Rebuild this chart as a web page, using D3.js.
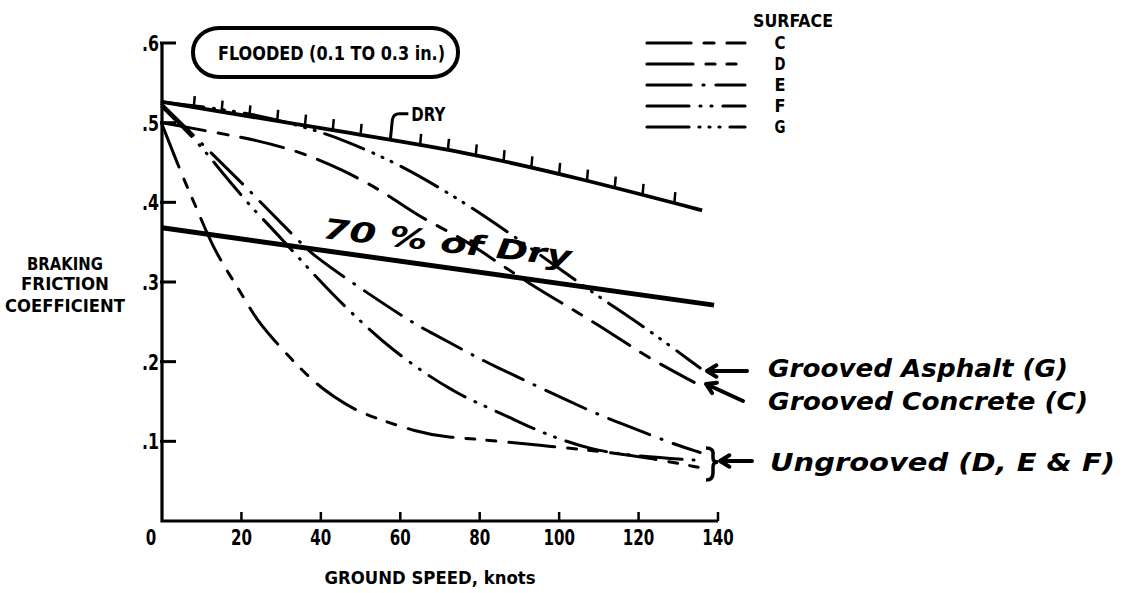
<!DOCTYPE html>
<html>
<head>
<meta charset="utf-8">
<script src="https://cdn.jsdelivr.net/npm/d3@7"></script>
<style>
  html, body { margin: 0; padding: 0; background: #ffffff; }
  svg { display: block; }
</style>
</head>
<body>
<div id="chart"></div>
<script>
// ── Data ───────────────────────────────────────────────────────────────────────

const speedTicks = [0, 20, 40, 60, 80, 100, 120, 140];
const frictionTicks = [0.1, 0.2, 0.3, 0.4, 0.5, 0.6];
const frictionTickLabels = [".1", ".2", ".3", ".4", ".5", ".6"];

// [ground speed (knots), braking friction coefficient]
const dryLine = [[0, 0.526], [40, 0.493], [75, 0.463], [136, 0.39]];
const seventyPctLine = [[0, 0.368], [139, 0.271]];
const dryHatchSpeeds = [8, 15, 22, 29, 36, 43, 50, 57.5, 65, 72, 79, 86, 93, 100, 107, 114, 121, 129];
const dryLeaderSpeed = 57.5;

const surfaceC = [[0, 0.5], [13, 0.488], [24, 0.478], [35, 0.463], [45, 0.442], [56, 0.413], [64, 0.384],
    [75, 0.356], [80, 0.34], [93, 0.296], [103, 0.267], [114, 0.233], [122, 0.206], [134, 0.174]];
const surfaceD = [[0, 0.498], [6, 0.422], [9, 0.39], [13, 0.34], [20, 0.286], [23, 0.259], [27, 0.233],
    [38, 0.174], [44, 0.154], [49, 0.137], [65, 0.11], [72.5, 0.105], [79, 0.103], [95, 0.095],
    [112, 0.087], [124, 0.078], [135.5, 0.067]];
const surfaceE = [[0, 0.523], [13, 0.459], [22, 0.415], [26, 0.394], [35, 0.349], [38, 0.334], [47, 0.302],
    [62, 0.252], [67.5, 0.237], [78, 0.209], [83, 0.196], [95, 0.168], [100, 0.156], [111, 0.131],
    [117, 0.12], [128, 0.098], [135.5, 0.086]];
const surfaceF = [[0, 0.52], [9, 0.476], [14.5, 0.441], [22.5, 0.394], [24.5, 0.384], [32, 0.344], [36.5, 0.319],
    [43, 0.284], [51.6, 0.243], [58, 0.215], [68, 0.179], [74, 0.162], [76, 0.156], [88, 0.129],
    [96, 0.11], [108, 0.089], [120, 0.081], [135.5, 0.076]];
const surfaceG = [[0, 0.526], [22, 0.513], [37, 0.493], [46, 0.478], [60, 0.447], [71, 0.415], [81, 0.384],
    [95, 0.335], [110, 0.281], [120, 0.249], [135.5, 0.192]];

const surfaceNames = ["C", "D", "E", "F", "G"];
const surfaceSeries = [surfaceC, surfaceD, surfaceE, surfaceF, surfaceG];
const surfaceDashes = ["44 13 10 13", "46 13 9 12 9 13", "44 12 1 12", "42 11 1 10 1 11", "42 10 1 9 1 9 1 10"];

const handNotes = ["Grooved Asphalt (G)", "Grooved Concrete (C)", "Ungrooved (D, E & F)"];

// ── Layout ─────────────────────────────────────────────────────────────────────

const W = 1135, H = 593;
const x = d3.scaleLinear().domain([0, 140]).range([162, 718]);
const y = d3.scaleLinear().domain([0, 0.6]).range([521, 43]);

const svg = d3.select("#chart").append("svg")
    .attr("width", W).attr("height", H)
    .attr("viewBox", `0 0 ${W} ${H}`);

const INK = "#000";
const typeFont = "'DejaVu Sans', 'Liberation Sans', sans-serif";
const handFont = "'DejaVu Sans', 'Liberation Sans', sans-serif";

// condensed bold lettering, like the typed labels of the scan
function typeText(parent, str, px, py, size, width, anchor = "start") {
    return parent.append("text")
        .attr("x", px).attr("y", py)
        .attr("font-family", typeFont)
        .attr("font-weight", "bold")
        .attr("font-size", size)
        .attr("text-anchor", anchor)
        .attr("fill", INK)
        .attr("textLength", width)
        .attr("lengthAdjust", "spacingAndGlyphs")
        .text(str);
}

function handText(parent, str, px, py, size, width) {
    return parent.append("text")
        .attr("x", px).attr("y", py)
        .attr("font-family", handFont)
        .attr("font-weight", "bold")
        .attr("font-style", "italic")
        .attr("font-size", size)
        .attr("fill", INK)
        .attr("textLength", width)
        .attr("lengthAdjust", "spacingAndGlyphs")
        .text(str);
}

// ── Axes ───────────────────────────────────────────────────────────────────────

const axisG = svg.append("g");

axisG.append("path")
    .attr("d", `M${x(0)},${y(0.6)} V${y(0)} H${x(140)}`)
    .attr("fill", "none").attr("stroke", INK).attr("stroke-width", 3.2);

// y ticks point inward
axisG.selectAll(".ytick").data(frictionTicks).enter().append("line")
    .attr("x1", x(0) - 2).attr("x2", x(0) + 14)
    .attr("y1", d => y(d)).attr("y2", d => y(d))
    .attr("stroke", INK).attr("stroke-width", 3);

axisG.selectAll(".ylab").data(frictionTicks).enter().append("text")
    .attr("x", x(0) - 3).attr("y", d => y(d) + 8)
    .attr("text-anchor", "end")
    .attr("font-family", typeFont).attr("font-weight", "bold").attr("font-size", 22)
    .attr("textLength", 17).attr("lengthAdjust", "spacingAndGlyphs")
    .text((d, i) => frictionTickLabels[i]);

// x ticks point up
axisG.selectAll(".xtick").data(speedTicks.slice(1)).enter().append("line")
    .attr("x1", d => x(d)).attr("x2", d => x(d))
    .attr("y1", y(0)).attr("y2", y(0) - 9)
    .attr("stroke", INK).attr("stroke-width", 2.5);

axisG.selectAll(".xlab").data(speedTicks).enter().append("text")
    .attr("x", d => d === 0 ? x(d) - 11 : x(d))
    .attr("y", 545)
    .attr("text-anchor", "middle")
    .attr("font-family", typeFont).attr("font-weight", "bold").attr("font-size", 22)
    .attr("textLength", d => String(d).length * 10.5)
    .attr("lengthAdjust", "spacingAndGlyphs")
    .text(d => d);

typeText(svg, "GROUND SPEED, knots", 430, 584, 18, 211, "middle");
typeText(svg, "BRAKING", 65, 270, 18, 76, "middle");
typeText(svg, "FRICTION", 65, 290, 18, 88, "middle");
typeText(svg, "COEFFICIENT", 65, 312, 18, 120, "middle");

// ── Title box ──────────────────────────────────────────────────────────────────

svg.append("rect")
    .attr("x", 193).attr("y", 28).attr("width", 265).attr("height", 49)
    .attr("rx", 26).attr("ry", 24)
    .attr("fill", "none").attr("stroke", INK).attr("stroke-width", 4);
typeText(svg, "FLOODED (0.1 TO 0.3 in.)", 218, 60, 20, 227);

// ── Legend ─────────────────────────────────────────────────────────────────────

const legend = svg.append("g");
typeText(legend, "SURFACE", 753, 27, 18, 80);
surfaceNames.forEach((name, i) => {
    const ly = 43 + i * 21;
    legend.append("line")
        .attr("x1", 647).attr("x2", 745).attr("y1", ly).attr("y2", ly)
        .attr("stroke", INK).attr("stroke-width", 3.2)
        .attr("stroke-linecap", "round")
        .attr("stroke-dasharray", surfaceDashes[i]);
    typeText(legend, name, 780, ly + 6, 18, 11, "middle");
});

// ── Curves ─────────────────────────────────────────────────────────────────────

const line = d3.line()
    .x(d => x(d[0]))
    .y(d => y(d[1]))
    .curve(d3.curveMonotoneX);

// the hand-traced surface curves are smooth, so soften the read-off points
const smoothLine = d3.line()
    .x(d => x(d[0]))
    .y(d => y(d[1]))
    .curve(d3.curveBasis);

const plot = svg.append("g");

surfaceSeries.forEach((series, i) => {
    plot.append("path")
        .datum(series)
        .attr("d", smoothLine)
        .attr("fill", "none")
        .attr("stroke", INK)
        .attr("stroke-width", 3)
        .attr("stroke-linecap", "round")
        .attr("stroke-dasharray", surfaceDashes[i]);
});

plot.append("path")
    .datum(dryLine)
    .attr("d", line)
    .attr("fill", "none").attr("stroke", INK).attr("stroke-width", 3.8);

plot.append("path")
    .datum(seventyPctLine)
    .attr("d", line)
    .attr("fill", "none").attr("stroke", INK).attr("stroke-width", 5);

// hatch marks on the dry line, read from the drawn path
const dryPath = plot.append("path").datum(dryLine).attr("d", line).attr("fill", "none").node();
const totalLen = dryPath.getTotalLength();
function dryYAt(px) {
    let lo = 0, hi = totalLen;
    for (let k = 0; k < 30; k++) {
        const mid = (lo + hi) / 2;
        if (dryPath.getPointAtLength(mid).x < px) lo = mid; else hi = mid;
    }
    return dryPath.getPointAtLength(lo).y;
}

dryHatchSpeeds.forEach(s => {
    const px = x(s), py = dryYAt(px);
    if (s === dryLeaderSpeed) {
        plot.append("path")
            .attr("d", `M${px},${py} L${px + 2},${py - 20} Q${px + 3},${py - 26} ${px + 9},${py - 26} H${px + 18}`)
            .attr("fill", "none").attr("stroke", INK).attr("stroke-width", 3);
        typeText(plot, "DRY", px + 21, py - 19, 20, 34);
    } else {
        plot.append("line")
            .attr("x1", px).attr("x2", px + 1)
            .attr("y1", py).attr("y2", py - 11)
            .attr("stroke", INK).attr("stroke-width", 2.5);
    }
});

// ── Handwritten notes ──────────────────────────────────────────────────────────

handText(svg, "70 % of Dry", 0, 0, 28, 250)
    .attr("transform", "translate(322,238) rotate(6.5)");

const notes = svg.append("g");
const noteY = [377, 410, 471];
const noteX = [768, 768, 770];
const noteW = [300, 320, 345];
handNotes.forEach((str, i) => handText(notes, str, noteX[i], noteY[i], 25, noteW[i]));

function arrow(x1, y1, x2, y2) {
    const a = Math.atan2(y2 - y1, x2 - x1), hl = 11;
    notes.append("path")
        .attr("d", `M${x1},${y1} L${x2},${y2}` +
            ` M${x2 + hl * Math.cos(a + Math.PI - 0.55)},${y2 + hl * Math.sin(a + Math.PI - 0.55)} L${x2},${y2}` +
            ` L${x2 + hl * Math.cos(a + Math.PI + 0.55)},${y2 + hl * Math.sin(a + Math.PI + 0.55)}`)
        .attr("fill", "none").attr("stroke", INK).attr("stroke-width", 4)
        .attr("stroke-linecap", "round").attr("stroke-linejoin", "round");
}
arrow(747, 371, 707, 371);
arrow(743, 401, 706, 384);
arrow(752, 461, 720, 461);

// brace grouping the ungrooved curves
notes.append("path")
    .attr("d", "M706,448 Q714,448 713,455 L713,458 Q713,462 718,462 Q713,462 713,467 L713,473 Q713,480 706,480")
    .attr("fill", "none").attr("stroke", INK).attr("stroke-width", 3.5);
</script>
</body>
</html>
